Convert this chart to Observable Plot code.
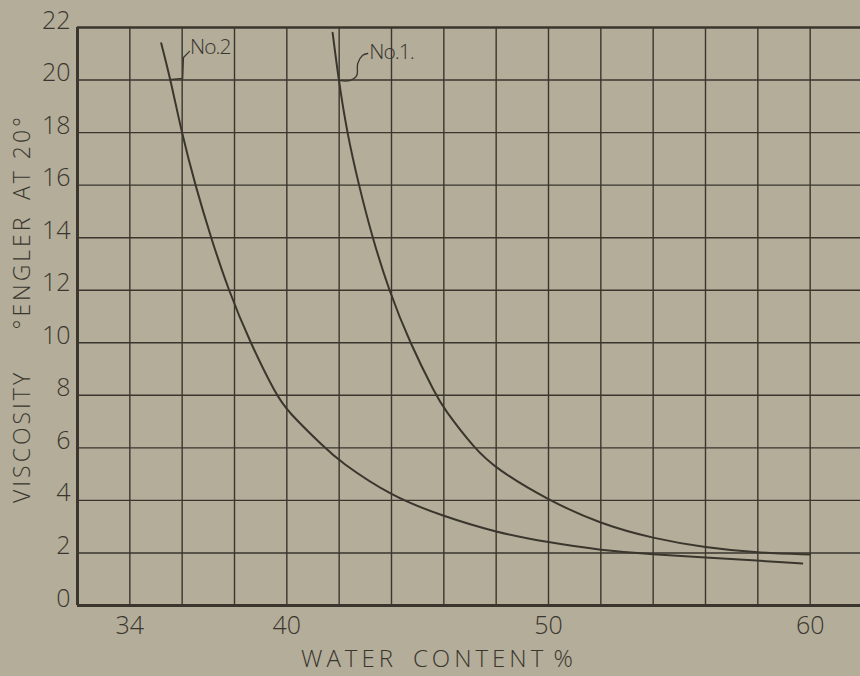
<!DOCTYPE html>
<html><head><meta charset="utf-8">
<script src="https://cdn.jsdelivr.net/npm/d3@7"></script>
<script src="https://cdn.jsdelivr.net/npm/@observablehq/plot@0.6"></script>
<style>
html,body{margin:0;padding:0;background:#b3ad9a;}
#chart{width:860px;height:676px;overflow:hidden;}
</style></head><body><div id="chart"></div>
<script>
// Curve No.1 (water content %, viscosity °Engler)
const no1X = [41.75, 41.98, 42.3, 42.75, 43.27, 43.9, 44.7, 45.7, 46.0, 47.15, 48.0, 50.0, 52.0, 54.0, 56.0, 58.0, 60.0];
const no1Y = [21.8, 20.0, 18.0, 16.0, 14.0, 12.0, 10.0, 8.0, 7.5, 6.0, 5.2, 4.0, 3.1, 2.55, 2.2, 2.0, 1.94];
// Curve No.2
const no2X = [35.2, 35.56, 35.98, 36.5, 37.1, 37.77, 38.6, 39.6, 40.0, 41.45, 42.0, 44.0, 46.0, 48.0, 50.0, 52.0, 54.0, 56.0, 58.0, 59.7];
const no2Y = [21.4, 20.0, 18.0, 16.0, 14.0, 12.0, 10.0, 8.0, 7.42, 6.0, 5.5, 4.15, 3.39, 2.78, 2.4, 2.1, 1.95, 1.82, 1.71, 1.6];
// Label leaders
const no1LeaderX = [42.02, 42.40, 42.67, 42.71, 42.90, 43.09];
const no1LeaderY = [19.98, 19.98, 20.17, 20.63, 20.94, 21.01];
const no2LeaderX = [35.59, 36.02, 36.05, 36.28];
const no2LeaderY = [20.02, 20.06, 20.86, 21.09];
const labelText = ["No.1.", "No.2"];
const labelX = [43.15, 36.3];
const labelY = [21.05, 21.24];
// Axes
const xDomain = [32, 62];
const yDomain = [0, 22];
const xGridValues = [34, 36, 38, 40, 42, 44, 46, 48, 50, 52, 54, 56, 58, 60];
const yGridValues = [2, 4, 6, 8, 10, 12, 14, 16, 18, 20];
const xTickLabels = [34, 40, 50, 60];
const yTickLabels = [0, 2, 4, 6, 8, 10, 12, 14, 16, 18, 20, 22];
const xTitle = "WATER\u2002CONTENT\u200A%";
const yTitle = "VISCOSITY\u2003\u2002°ENGLER\u2002AT 20°";

const ink = "#3a362d";
const font = "'Open Sans', 'DejaVu Sans', sans-serif";

const toPts = (xs, ys) => xs.map((x, i) => ({x, y: ys[i]}));
const no1 = toPts(no1X, no1Y);
const no2 = toPts(no2X, no2Y);
const lead1 = toPts(no1LeaderX, no1LeaderY);
const lead2 = toPts(no2LeaderX, no2LeaderY);
const labels = labelText.map((t, i) => ({t, x: labelX[i], y: labelY[i]}));

const chart = Plot.plot({
  width: 860,
  height: 676,
  marginLeft: 77, marginRight: 0, marginTop: 27, marginBottom: 71,
  x: {domain: xDomain, range: [77, 862]},
  y: {domain: yDomain, range: [605, 27]},
  style: {background: "#b3ad9a", fontFamily: font, color: ink, overflow: "hidden"},
  marks: [
    Plot.ruleX(xGridValues, {stroke: ink, strokeWidth: 1.4, y1: 0, y2: 22}),
    Plot.ruleY(yGridValues, {stroke: ink, strokeWidth: 1.4, x1: 32, x2: 62}),
    Plot.ruleY([22], {stroke: ink, strokeWidth: 2.4, x1: 32, x2: 62}),
    Plot.ruleY([0], {stroke: ink, strokeWidth: 3, x1: 32, x2: 62}),
    Plot.ruleX([32], {stroke: ink, strokeWidth: 3, y1: 0, y2: 22}),
    Plot.line(no1, {x: "x", y: "y", curve: "basis", stroke: ink, strokeWidth: 2}),
    Plot.line(no2, {x: "x", y: "y", curve: "basis", stroke: ink, strokeWidth: 2}),
    Plot.line(lead1, {x: "x", y: "y", curve: "catmull-rom", stroke: ink, strokeWidth: 1.3}),
    Plot.line(lead2, {x: "x", y: "y", stroke: ink, strokeWidth: 1.3}),
    Plot.text(labels, {x: "x", y: "y", text: "t", textAnchor: "start", fontSize: 21, fill: ink, fontWeight: 300}),
    Plot.axisX(xTickLabels, {tickSize: 0, tickPadding: 11, fontSize: 25, fill: ink, fontWeight: 300, label: null}),
    Plot.axisY(yTickLabels, {tickSize: 0, tickPadding: 7, fontSize: 25, fill: ink, fontWeight: 300, dy: -7, label: null}),
    Plot.text([xTitle], {frameAnchor: "bottom", textAnchor: "middle", dy: 61, dx: -30, fontSize: 24, fill: ink, fontWeight: 300}),
    Plot.text([yTitle], {frameAnchor: "left", textAnchor: "middle", rotate: -90, dx: -55, dy: -8, fontSize: 23, fill: ink, fontWeight: 300})
  ]
});
// letter spacing for the hand-lettered titles
const spacing = new Map([[xTitle, "4px"], [yTitle, "3px"], [labelText[0], "-1px"], [labelText[1], "-1px"]]);
chart.querySelectorAll("text").forEach(t => {
  const s = spacing.get(t.textContent);
  if (s) t.setAttribute("letter-spacing", s);
});
document.getElementById("chart").appendChild(chart);
</script>
</body></html>
